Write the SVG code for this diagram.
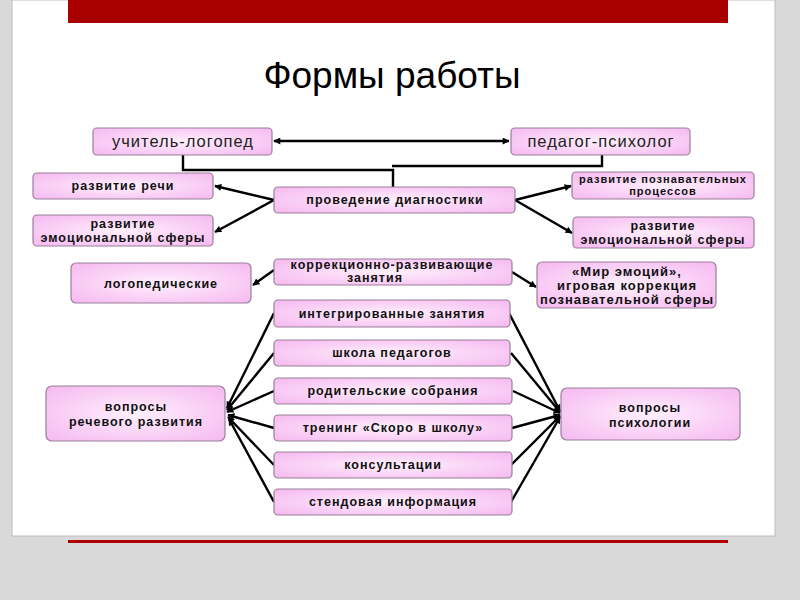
<svg xmlns="http://www.w3.org/2000/svg" width="800" height="600" viewBox="0 0 800 600">
<defs>
<radialGradient id="pk" cx="50%" cy="50%" r="65%">
<stop offset="0" stop-color="#fff0fd"/>
<stop offset="1" stop-color="#f6bcf1"/>
</radialGradient>
<marker id="ah" viewBox="0 0 10 10" refX="9" refY="5" markerWidth="8" markerHeight="7" markerUnits="userSpaceOnUse" orient="auto-start-reverse">
<path d="M0,0 L10,5 L0,10 z" fill="#000"/>
</marker>
<style>
.box{fill:url(#pk);stroke:#9a7f9a;stroke-width:1.2}
.t{font-family:"Liberation Sans",Arial,sans-serif;font-weight:bold;font-size:12.5px;letter-spacing:1px;fill:#111;text-anchor:middle}
.tn{font-family:"Liberation Sans",Arial,sans-serif;font-size:16.5px;letter-spacing:1px;fill:#222;text-anchor:middle}
.s{font-size:11px}
.l{font-size:13px}
.c{fill:none;stroke:#000;stroke-width:2.4}
</style>
</defs>
<rect x="0" y="0" width="800" height="600" fill="#d9d9d9"/>
<rect x="12" y="0" width="763" height="536" fill="#ffffff" stroke="#bdbdbd" stroke-width="1"/>
<rect x="68" y="0" width="660" height="23" fill="#a80000"/>
<rect x="68" y="540" width="660" height="3" fill="#b00000"/>
<text x="392" y="88" font-family="'Liberation Sans',Arial,sans-serif" font-size="37" text-anchor="middle" fill="#000">Формы работы</text>

<g id="connectors">
<line class="c" x1="274" y1="141" x2="509" y2="141" marker-start="url(#ah)" marker-end="url(#ah)"/>
<polyline class="c" points="183,155 183,170 393,170 393,187"/>
<polyline class="c" points="602,155 602,166 392,166"/>
<line class="c" x1="274" y1="200" x2="215" y2="186" marker-end="url(#ah)"/>
<line class="c" x1="274" y1="200" x2="215" y2="232" marker-end="url(#ah)"/>
<line class="c" x1="515" y1="200" x2="571" y2="186" marker-end="url(#ah)"/>
<line class="c" x1="515" y1="200" x2="572" y2="233" marker-end="url(#ah)"/>
<line class="c" x1="274" y1="270" x2="253" y2="285" marker-end="url(#ah)"/>
<line class="c" x1="512" y1="272" x2="536" y2="287" marker-end="url(#ah)"/>
<line class="c" x1="274" y1="313" x2="227" y2="408" marker-end="url(#ah)"/>
<line class="c" x1="274" y1="353" x2="227" y2="410" marker-end="url(#ah)"/>
<line class="c" x1="274" y1="391" x2="227" y2="412" marker-end="url(#ah)"/>
<line class="c" x1="274" y1="428" x2="228" y2="415" marker-end="url(#ah)"/>
<line class="c" x1="274" y1="465" x2="228" y2="417" marker-end="url(#ah)"/>
<line class="c" x1="274" y1="502" x2="229" y2="419" marker-end="url(#ah)"/>
<line class="c" x1="509" y1="313" x2="560" y2="411" marker-end="url(#ah)"/>
<line class="c" x1="511" y1="353" x2="560" y2="412" marker-end="url(#ah)"/>
<line class="c" x1="513" y1="391" x2="560" y2="413" marker-end="url(#ah)"/>
<line class="c" x1="512" y1="428" x2="560" y2="415" marker-end="url(#ah)"/>
<line class="c" x1="511" y1="465" x2="560" y2="416" marker-end="url(#ah)"/>
<line class="c" x1="511" y1="502" x2="560" y2="417" marker-end="url(#ah)"/>
</g>

<g id="n1"><rect class="box" x="93" y="128" width="179" height="27" rx="4"/><text class="tn" x="183" y="147">учитель-логопед</text></g>
<g id="n2"><rect class="box" x="511" y="128" width="179" height="27" rx="4"/><text class="tn" x="601" y="147">педагог-психолог</text></g>
<g id="n3"><rect class="box" x="33" y="173" width="180" height="26" rx="4"/><text class="t" x="123" y="190">развитие речи</text></g>
<g id="n4"><rect class="box" x="33" y="215" width="180" height="31" rx="4"/><text class="t" x="123" y="228">развитие</text><text class="t" x="123" y="242">эмоциональной сферы</text></g>
<g id="n5"><rect class="box" x="274" y="187" width="241" height="26" rx="4"/><text class="t" x="395" y="204">проведение диагностики</text></g>
<g id="n6"><rect class="box" x="572" y="172" width="182" height="27" rx="4"/><text class="t s" x="663" y="183">развитие познавательных</text><text class="t s" x="663" y="195">процессов</text></g>
<g id="n7"><rect class="box" x="573" y="217" width="181" height="31" rx="4"/><text class="t" x="663" y="230">развитие</text><text class="t" x="663" y="244">эмоциональной сферы</text></g>
<g id="n8"><rect class="box" x="71" y="263" width="180" height="40" rx="5"/><text class="t" x="161" y="288">логопедические</text></g>
<g id="n9"><rect class="box" x="274" y="259" width="238" height="26" rx="4"/><text class="t" x="392" y="269">коррекционно-развивающие</text><text class="t" x="375" y="282">занятия</text></g>
<g id="n10"><rect class="box" x="537" y="262" width="179" height="46" rx="5"/><text class="t l" x="627" y="276">«Мир эмоций»,</text><text class="t l" x="627" y="290">игровая коррекция</text><text class="t l" x="627" y="304">познавательной сферы</text></g>
<g id="n11"><rect class="box" x="274" y="300" width="236" height="27" rx="4"/><text class="t" x="392" y="318">интегрированные занятия</text></g>
<g id="n12"><rect class="box" x="274" y="340" width="236" height="26" rx="4"/><text class="t" x="392" y="357">школа педагогов</text></g>
<g id="n13"><rect class="box" x="274" y="378" width="238" height="26" rx="4"/><text class="t" x="393" y="395">родительские собрания</text></g>
<g id="n14"><rect class="box" x="274" y="415" width="238" height="26" rx="4"/><text class="t" x="393" y="432">тренинг «Скоро в школу»</text></g>
<g id="n15"><rect class="box" x="274" y="452" width="238" height="26" rx="4"/><text class="t" x="393" y="469">консультации</text></g>
<g id="n16"><rect class="box" x="274" y="489" width="238" height="26" rx="4"/><text class="t" x="393" y="506">стендовая информация</text></g>
<g id="n17"><rect class="box" x="46" y="386" width="179" height="55" rx="6"/><text class="t" x="136" y="411">вопросы</text><text class="t" x="136" y="426">речевого развития</text></g>
<g id="n18"><rect class="box" x="561" y="388" width="179" height="52" rx="6"/><text class="t" x="650" y="412">вопросы</text><text class="t" x="650" y="427">психологии</text></g>
</svg>
